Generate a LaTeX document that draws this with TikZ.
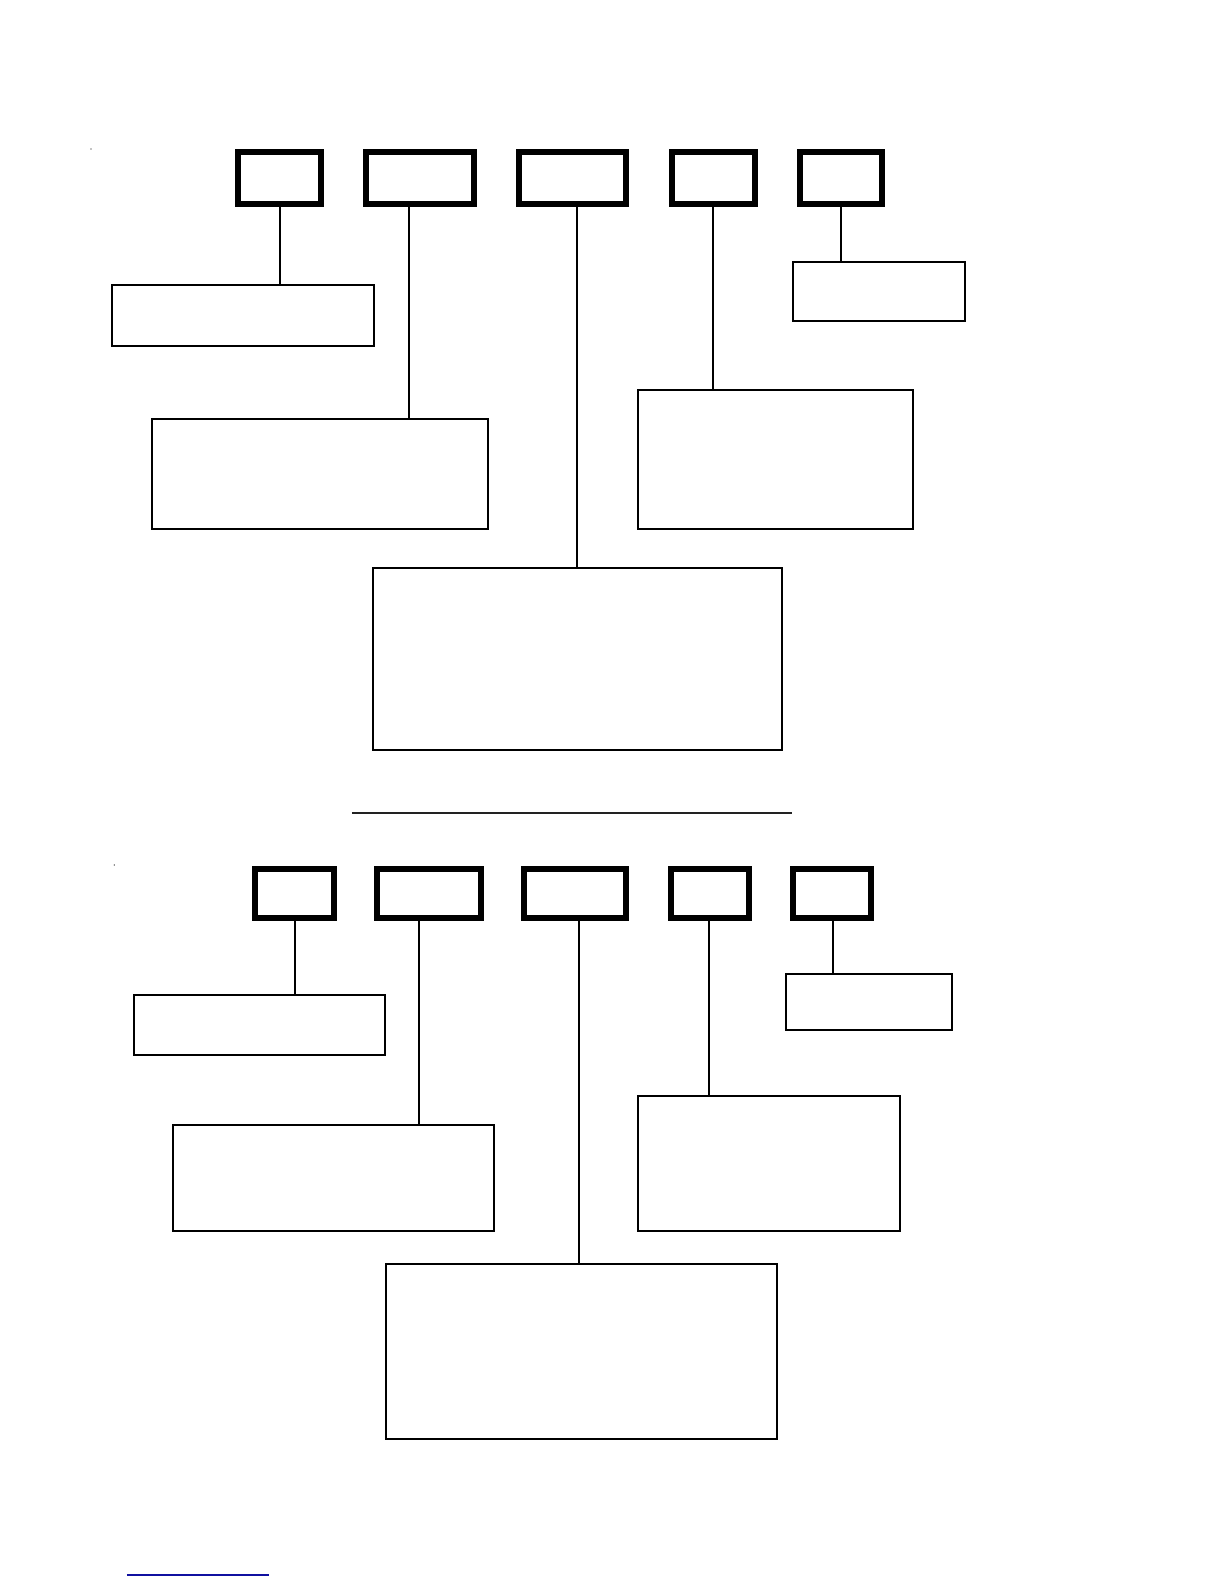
\documentclass[tikz,border=0pt]{standalone}
\usetikzlibrary{fit}
\definecolor{linkblue}{RGB}{16,16,160}
\definecolor{rule}{RGB}{34,34,34}
\begin{document}
\begin{tikzpicture}[x=0.5055bp,y=-0.5055bp,
  tb/.style={draw,line width=3bp,inner sep=0pt},
  nb/.style={draw,line width=1bp,inner sep=0pt},
  cn/.style={line width=1bp}]
\useasboundingbox (0,0) rectangle (1210.7,1566.8);
\fill[white] (0,0) rectangle (1210.7,1566.8);

% ---------- top diagram ----------
\node[tb,fit={(235.4,150.5) (317.5,201.6)}] (T1) {};
\node[tb,fit={(362.0,150.5) (468.8,201.6)}] (T2) {};
\node[tb,fit={(513.4,150.5) (619.2,201.6)}] (T3) {};
\node[tb,fit={(665.0,150.5) (746.5,201.6)}] (T4) {};
\node[tb,fit={(791.3,150.5) (872.4,201.6)}] (T5) {};

\node[nb,fit={(110.5,281.5) (369.5,342.5)}] (A) {};
\node[nb,fit={(150.5,414.5) (482.5,523.5)}] (B) {};
\node[nb,fit={(368.5,561.5) (773.5,741.5)}] (C) {};
\node[nb,fit={(631.5,385.5) (903.5,523.5)}] (D) {};
\node[nb,fit={(784.5,259.5) (954.5,317.5)}] (E) {};

\coordinate (k1) at (277,0);
\coordinate (k2) at (405,0);
\coordinate (k3) at (571,0);
\coordinate (k4) at (705,0);
\coordinate (k5) at (832,0);
\draw[cn] (T1.south -| k1) -- (A.north -| k1);
\draw[cn] (T2.south -| k2) -- (B.north -| k2);
\draw[cn] (T3.south -| k3) -- (C.north -| k3);
\draw[cn] (T4.south -| k4) -- (D.north -| k4);
\draw[cn] (T5.south -| k5) -- (E.north -| k5);

% divider
\coordinate (r1) at (348,804.2);
\coordinate (r2) at (783.4,804.2);
\draw[rule,line width=1bp] (r1) -- (r2);

% ---------- bottom diagram ----------
\node[tb,fit={(252.3,859.5) (330.3,908.0)}] (U1) {};
\node[tb,fit={(373.0,859.5) (475.4,908.0)}] (U2) {};
\node[tb,fit={(518.3,859.5) (619.2,908.0)}] (U3) {};
\node[tb,fit={(663.7,859.5) (740.5,908.0)}] (U4) {};
\node[tb,fit={(784.7,859.5) (861.2,908.0)}] (U5) {};

\node[nb,fit={(132.5,984.5) (380.5,1043.5)}] (a) {};
\node[nb,fit={(171.5,1112.5) (488.5,1217.5)}] (b) {};
\node[nb,fit={(381.5,1250.5) (768.5,1423.5)}] (c) {};
\node[nb,fit={(631.5,1084.5) (890.5,1217.5)}] (d) {};
\node[nb,fit={(777.5,963.5) (941.5,1018.5)}] (e) {};

\coordinate (m1) at (292,0);
\coordinate (m2) at (414,0);
\coordinate (m3) at (573,0);
\coordinate (m4) at (701,0);
\coordinate (m5) at (824,0);
\draw[cn] (U1.south -| m1) -- (a.north -| m1);
\draw[cn] (U2.south -| m2) -- (b.north -| m2);
\draw[cn] (U3.south -| m3) -- (c.north -| m3);
\draw[cn] (U4.south -| m4) -- (d.north -| m4);
\draw[cn] (U5.south -| m5) -- (e.north -| m5);

% small marks
\fill (90,147.4) circle (0.7);
\fill (113,855.6) circle (0.7);

% blue line at the bottom
\coordinate (bl1) at (125.6,1558);
\coordinate (bl2) at (266,1558);
\draw[linkblue,line width=1bp] (bl1) -- (bl2);
\end{tikzpicture}
\end{document}
